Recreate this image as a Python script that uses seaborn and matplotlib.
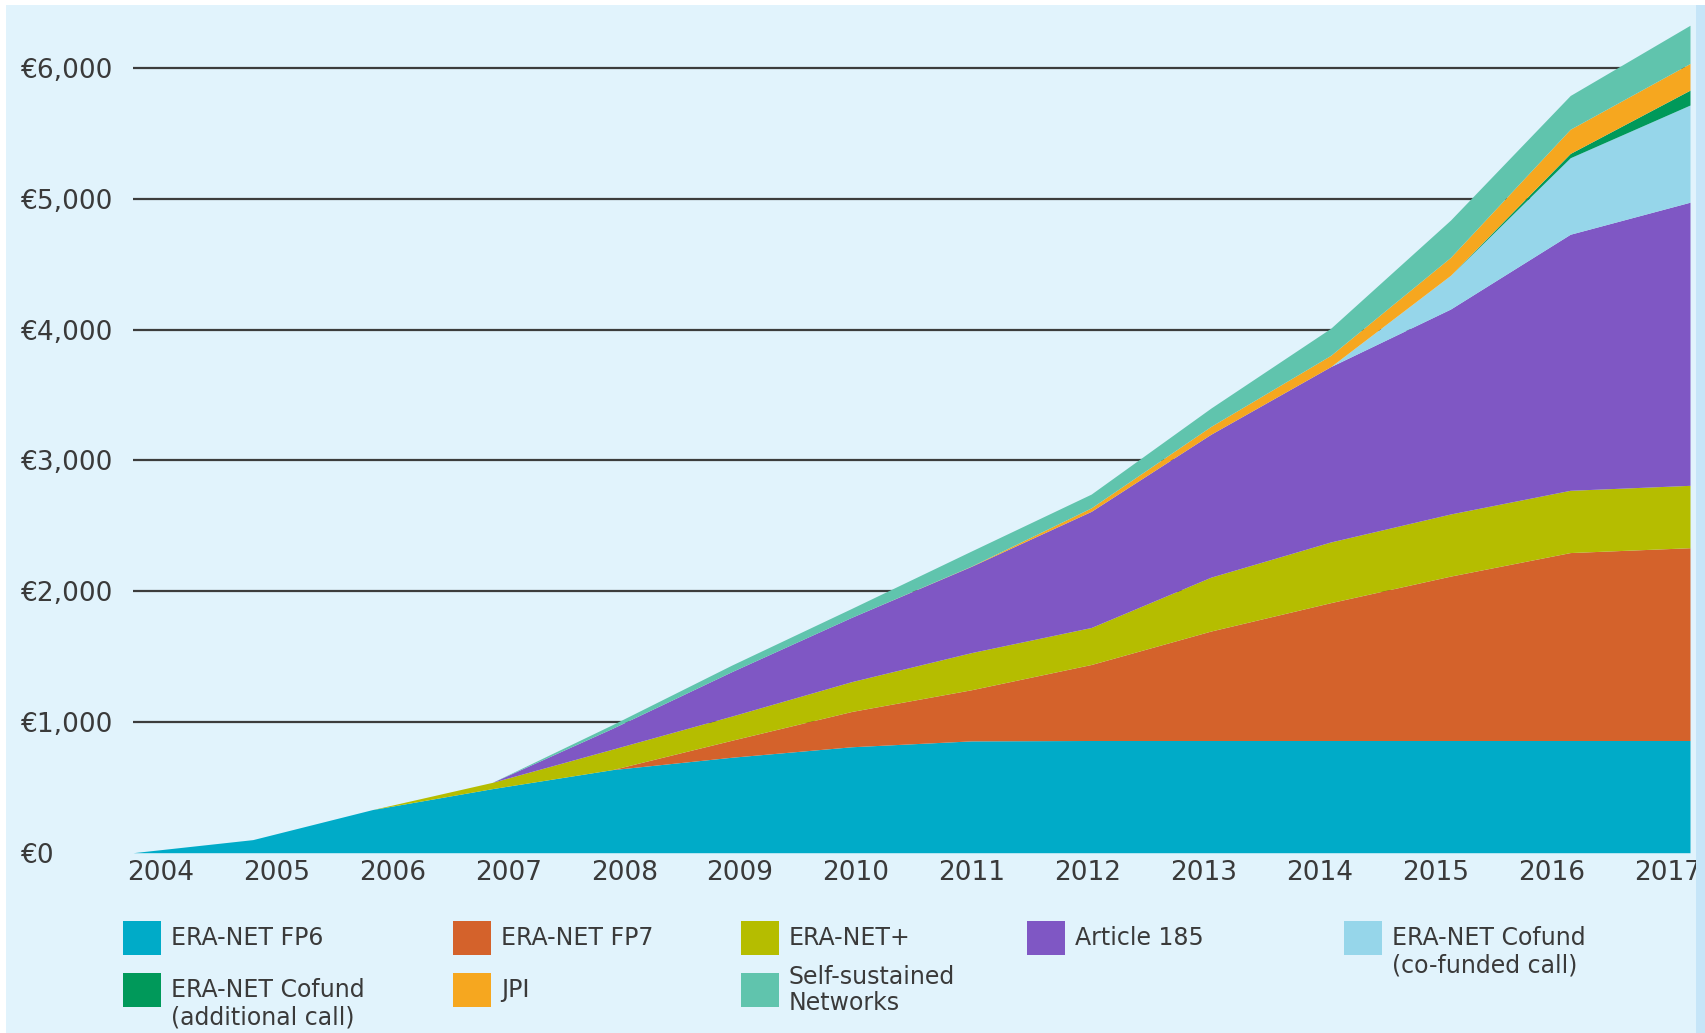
import numpy as np
import pandas as pd
import matplotlib
matplotlib.use('Agg')
import matplotlib.pyplot as plt
import seaborn as sns
from matplotlib.patches import Rectangle

## 数据 (百万欧元, 累计)
years = list(range(2004, 2018))
fp6        = [0, 100, 330, 490, 635, 730, 810, 855, 858, 858, 858, 858, 858, 858]
fp7        = [0, 0, 0, 0, 0, 130, 270, 391, 581, 837, 1054, 1257, 1437, 1474]
era_plus   = [0, 0, 0, 48, 156, 185, 228, 284, 283, 412, 464, 475, 476, 477]
art185     = [0, 0, 0, 0, 159, 340, 492, 660, 888, 1093, 1341, 1567, 1958, 2165]
cofund_co  = [0, 0, 0, 0, 0, 0, 0, 0, 0, 0, 0, 258, 585, 743]
cofund_add = [0, 0, 0, 0, 0, 0, 0, 0, 0, 0, 0, 0, 33, 114]
jpi        = [0, 0, 0, 0, 0, 0, 0, 2, 27, 60, 86, 137, 185, 204]
ssn        = [0, 0, 0, 0, 28, 50, 68, 115, 105, 140, 207, 285, 258, 292]

labels = ["ERA-NET FP6", "ERA-NET FP7", "ERA-NET+", "Article 185",
          "ERA-NET Cofund\n(co-funded call)", "ERA-NET Cofund\n(additional call)",
          "JPI", "Self-sustained\nNetworks"]
colors = ["#00abc8", "#d4622b", "#b5bd00", "#7f57c4",
          "#96d6ea", "#00995a", "#f6a71f", "#60c4ad"]
yticks = [0, 1000, 2000, 3000, 4000, 5000, 6000]
ytick_labels = ["€0", "€1,000", "€2,000", "€3,000", "€4,000", "€5,000", "€6,000"]

df = pd.DataFrame({labels[0]: fp6, labels[1]: fp7, labels[2]: era_plus, labels[3]: art185,
                   labels[4]: cofund_co, labels[5]: cofund_add, labels[6]: jpi, labels[7]: ssn},
                  index=years)

bg = "#e1f3fc"
txt = "#3a3a3a"
W, H = 1706, 1033

sns.set_theme(style="white")
plt.rcParams['font.family'] = ['DejaVu Sans']
palette = sns.color_palette(colors)

fig = plt.figure(figsize=(W / 100, H / 100), dpi=100, facecolor=bg)
ax = fig.add_axes([133 / W, (H - 852.7) / H, (1690 - 133) / W, 837 / H])
ax.set_facecolor(bg)

# 网格线在面积图下面
for v in yticks[1:]:
    ax.axhline(v, color="#3c3c3c", lw=1.6, zorder=1)

ax.stackplot(df.index, df.T.values, colors=palette, linewidth=0, zorder=2)

ax.set_xlim(years[0], years[-1])
ax.set_ylim(0, 6400)

ax.set_yticks(yticks)
ax.set_yticklabels(ytick_labels)
for lab in ax.get_yticklabels():
    lab.set_horizontalalignment('left')
ax.tick_params(axis='y', length=0, pad=81, labelsize=19, labelcolor=txt)

# 原图的年份标签和数据点稍微错开
xtick_pos = np.linspace(2004.23, 2016.81, len(years))
ax.set_xticks(xtick_pos)
ax.set_xticklabels([str(y) for y in years])
ax.tick_params(axis='x', length=0, pad=5, labelsize=19, labelcolor=txt)
sns.despine(ax=ax, left=True, bottom=True)

## 图例 (手动放置)
leg_pos = [(123, 938, 0), (453, 938, 0), (741, 938, 0), (1027, 938, 0), (1344, 938, 0),
           (123, 990, 0), (453, 990, 0), (741, 990, -0.5)]
line_gap = 27
for (px, py, off), lab, col in zip(leg_pos, labels, colors):
    fig.add_artist(Rectangle((px / W, 1 - (py + 17) / H), 38 / W, 34 / H,
                             transform=fig.transFigure, color=col, lw=0))
    for i, line in enumerate(lab.split("\n")):
        yy = py + (i + off) * line_gap
        fig.text((px + 48) / W, 1 - yy / H, line, fontsize=17, color=txt,
                 ha='left', va='center')

# 截图边缘
fig.add_artist(Rectangle((0, 1 - 5 / H), 1, 5 / H, transform=fig.transFigure, color='white', lw=0))
fig.add_artist(Rectangle((0, 0), 6 / W, 1, transform=fig.transFigure, color='white', lw=0))
fig.add_artist(Rectangle((1696 / W, 0), 10 / W, 1 - 5 / H, transform=fig.transFigure, color='#c6e5f8', lw=0))

fig.savefig('out.png', dpi=100, facecolor=bg)
